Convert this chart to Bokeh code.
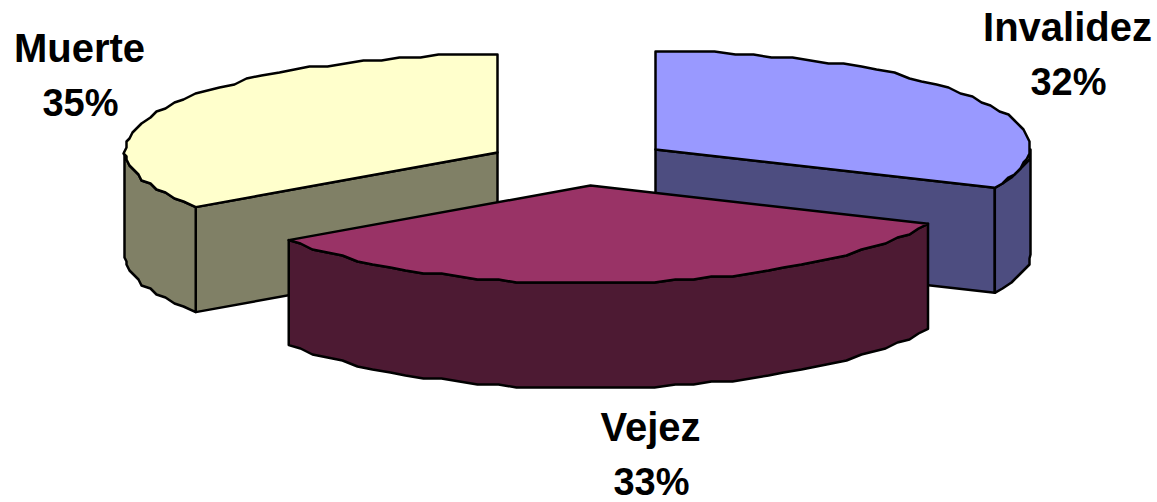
import numpy as np
from bokeh.plotting import figure
from bokeh.core.properties import value
from bokeh.embed import file_html
from bokeh.resources import INLINE

categories = ["Invalidez", "Vejez", "Muerte"]
shares = [32, 33, 35]
top_colors = ["#9999FF", "#993366", "#FFFFCC"]
side_colors = ["#4D4D80", "#4D1A33", "#808066"]
centers = [(655, 149), (590, 185), (497, 152)]
radii_x = [375, 373, 373]
label_pos = [(1067, 26, 1068, 81), (650, 426, 651, 481), (79, 47, 80, 102)]

RY, DEPTH = 98, 105
EDGE = dict(line_color="black", line_width=2.5, line_join="round")

p = figure(width=1157, height=502, x_range=(0, 1157), y_range=(502, 0),
           output_backend="svg", toolbar_location=None, min_border=0,
           outline_line_color=None, background_fill_color="white")
p.axis.visible = False
p.grid.visible = False


def rough(v):
    return np.round(np.asarray(v, dtype=float) / 3) * 3


def rim(cx, cy, rx, deg):
    t = np.radians(deg)
    s = np.sin(t)
    lift = np.where(s >= 0, s, -np.abs(s) ** 1.1)
    return cx + rx * np.cos(t), cy - RY * lift


def arc(cx, cy, rx, t0, t1):
    n = max(2, int(abs(t1 - t0) / 3) + 1)
    x, y = rim(cx, cy, rx, np.linspace(t0, t1, n))
    x[1:-1], y[1:-1] = rough(x[1:-1]), rough(y[1:-1])
    return x, y


angles = []
a = 90.0
for s in shares:
    angles.append((a, a - s * 3.6))
    a -= s * 3.6

for i in [2, 0, 1]:
    cx, cy = centers[i]
    rx = radii_x[i]
    a0, a1 = angles[i]
    xs, ys = arc(cx, cy, rx, a0, a1)

    # cut face that turns towards the viewer, and the front part of the wall
    if categories[i] == "Invalidez":
        corner, w0, w1 = a1, a1, 0.0
    elif categories[i] == "Muerte":
        corner, w0, w1 = a0, -180.0, a0
    else:
        corner, w0, w1 = None, a1, a0
    if corner is not None:
        ex, ey = rim(cx, cy, rx, corner)
        p.patch([cx, ex, ex, cx], [cy, ey, ey + DEPTH, cy + DEPTH],
                fill_color=side_colors[i], **EDGE)

    wx, wy = arc(cx, cy, rx, w0, w1)
    p.patch(np.r_[wx, wx[::-1]], np.r_[wy, wy[::-1] + DEPTH],
            fill_color=side_colors[i], **EDGE)

    # top face
    p.patch(np.r_[cx, xs], np.r_[cy, ys], fill_color=top_colors[i], **EDGE)

for i, (lx, ly, vx, vy) in enumerate(label_pos):
    p.text([lx], [ly], text=[categories[i]],
           text_font=value("Liberation Sans"), text_font_style="bold",
           text_font_size="40px", text_color="black",
           text_align="center", text_baseline="alphabetic")
    p.text([vx], [vy], text=[f"{shares[i]}%"],
           text_font=value("Liberation Sans"), text_font_style="bold",
           text_font_size="38px", text_color="black",
           text_align="center", text_baseline="alphabetic")

html = file_html(p, INLINE)
html = html.replace("</head>", "<style>html,body{margin:0;padding:0;overflow:hidden}</style></head>", 1)
open("out.html", "w").write(html)
